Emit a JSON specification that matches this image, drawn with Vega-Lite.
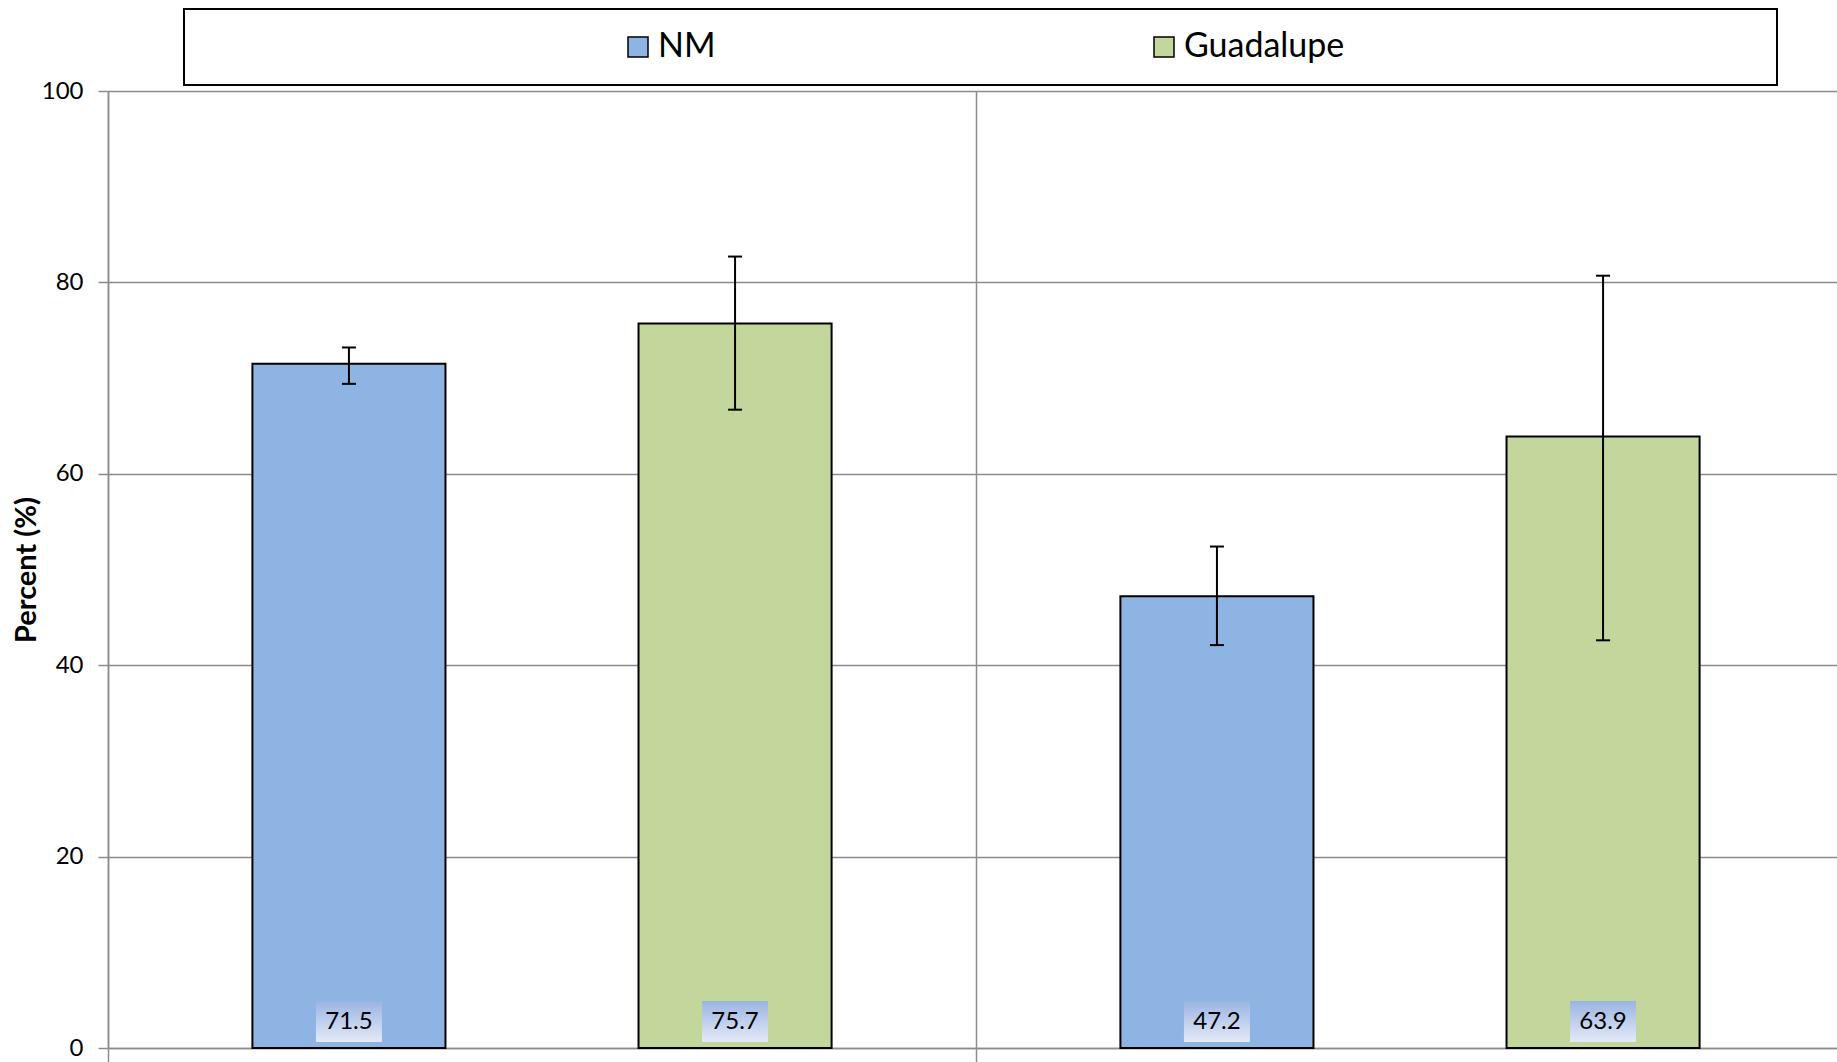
{
  "$schema": "https://vega.github.io/schema/vega-lite/v6.json",
  "width": 1729,
  "height": 957,
  "autosize": {"type": "none"},
  "padding": {"left": 108, "top": 91, "right": 0, "bottom": 14},
  "background": "white",
  "config": {
    "font": "Lato",
    "view": {"stroke": null},
    "axis": {"domainColor": "#8c8c8c", "domainWidth": 1.5, "tickColor": "#8c8c8c", "tickWidth": 1.5, "gridColor": "#8c8c8c", "gridWidth": 1.5, "gridOpacity": 1},
    "legend": {"strokeWidth": 2}
  },
  "data": {
    "values": [
      {"group": "Group 1", "series": "NM", "value": 71.5, "low": 69.4, "high": 73.2},
      {"group": "Group 1", "series": "Guadalupe", "value": 75.7, "low": 66.7, "high": 82.7},
      {"group": "Group 2", "series": "NM", "value": 47.2, "low": 42.1, "high": 52.4},
      {"group": "Group 2", "series": "Guadalupe", "value": 63.9, "low": 42.6, "high": 80.7}
    ]
  },
  "encoding": {
    "x": {
      "field": "group", "type": "nominal",
      "scale": {"range": [0, 1736], "paddingInner": 0, "paddingOuter": 0},
      "axis": {"title": null, "labels": false, "bandPosition": 0, "grid": true, "tickSize": 14, "domain": true}
    },
    "xOffset": {
      "field": "series", "type": "nominal", "sort": ["NM", "Guadalupe"],
      "scale": {"domain": ["NM", "Guadalupe"], "paddingInner": 0.5, "paddingOuter": 0.374}
    }
  },
  "layer": [
    {
      "mark": {"type": "bar", "stroke": "black", "strokeWidth": 2},
      "encoding": {
        "y": {
          "field": "value", "type": "quantitative",
          "scale": {"domain": [0, 100], "nice": false},
          "axis": {
            "title": "Percent (%)", "titleFont": "Lato", "titleFontSize": 29, "titleFontWeight": "bold", "titleColor": "black",
            "titleAngle": -90, "titleX": -82, "titleBaseline": "middle", "titleAlign": "center",
            "values": [0, 20, 40, 60, 80, 100], "labelFontSize": 24, "labelColor": "black", "labelPadding": 15, "tickSize": 10,
            "grid": true
          }
        },
        "color": {
          "field": "series", "type": "nominal",
          "scale": {"domain": ["NM", "Guadalupe"], "range": ["#8EB4E3", "#C3D69B"]},
          "legend": {
            "orient": "none", "legendX": 76, "legendY": -82, "direction": "horizontal",
            "title": "\u00a0", "titleOrient": "right", "titlePadding": 412, "titleFontSize": 10,
            "symbolType": "square", "symbolSize": 400, "symbolStrokeColor": "black", "symbolStrokeWidth": 1.5,
            "labelFontSize": 34, "labelColor": "black", "labelOffset": 3, "columnPadding": 15, "labelLimit": 600,
            "padding": 21, "strokeColor": "black", "fillColor": "white", "symbolOffset": 416
          }
        }
      }
    },
    {
      "mark": {"type": "rule", "color": "black", "strokeWidth": 2},
      "encoding": {"y": {"field": "low", "type": "quantitative"}, "y2": {"field": "high"}}
    },
    {
      "mark": {"type": "tick", "color": "black", "thickness": 2, "size": 14, "opacity": 1},
      "encoding": {"y": {"field": "low", "type": "quantitative"}}
    },
    {
      "mark": {"type": "tick", "color": "black", "thickness": 2, "size": 14, "opacity": 1},
      "encoding": {"y": {"field": "high", "type": "quantitative"}}
    },
    {
      "mark": {
        "type": "point", "shape": "M-1,-0.62H1V0.62H-1Z", "filled": true, "size": 4356, "yOffset": -26.5, "opacity": 1, "strokeWidth": 0,
        "fill": {"gradient": "linear", "x1": 0, "y1": 0, "x2": 0, "y2": 1, "stops": [{"offset": 0, "color": "#9AB4E3"}, {"offset": 1, "color": "#E4EAF7"}]}
      },
      "encoding": {"y": {"datum": 0, "type": "quantitative"}}
    },
    {
      "mark": {"type": "text", "fontSize": 24, "yOffset": -26.5, "baseline": "middle", "align": "center", "color": "black"},
      "encoding": {"y": {"datum": 0, "type": "quantitative"}, "text": {"field": "value", "type": "quantitative", "format": ".1f"}}
    }
  ]
}
